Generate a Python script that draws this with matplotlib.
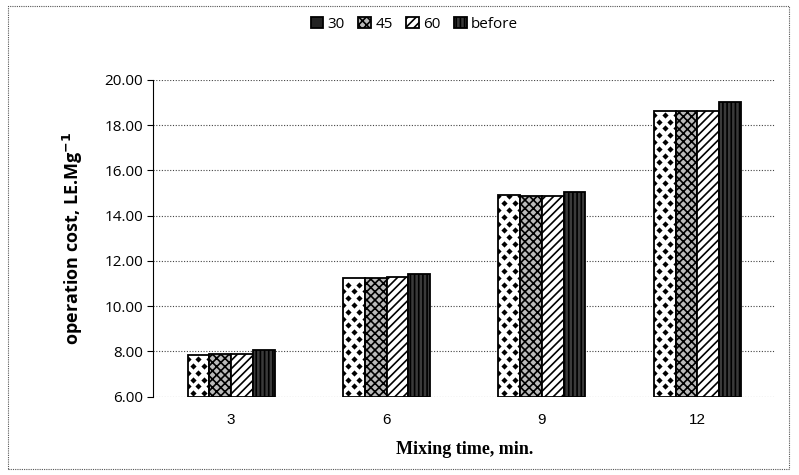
import numpy as np
import matplotlib
matplotlib.use('Agg')
import matplotlib.pyplot as plt
from matplotlib.patches import Rectangle

# ====== data ======
categories = ['3', '6', '9', '12']
series_names = ['30', '45', '60', 'before']
v30 = [7.85, 11.25, 14.90, 18.60]
v45 = [7.88, 11.25, 14.85, 18.60]
v60 = [7.88, 11.30, 14.85, 18.60]
vbefore = [8.05, 11.40, 15.05, 19.00]
yticks = [6, 8, 10, 12, 14, 16, 18, 20]

plt.rcParams['hatch.linewidth'] = 1.2

fig = plt.figure(figsize=(7.99, 4.75), dpi=100)
ax = fig.add_axes([0.192, 0.165, 0.778, 0.667])

# outer dotted frame
fig.patches.append(Rectangle((0.01, 0.012), 0.978, 0.976, transform=fig.transFigure,
                             fill=False, ec='#555555', lw=0.8, ls=(0, (1, 1))))

x = np.arange(len(categories))
w = 0.14
styles = [
    dict(facecolor='white', hatch=None, edgecolor='black'),
    dict(facecolor='#bbbbbb', hatch='xxxx', edgecolor='black'),
    dict(facecolor='white', hatch='////', edgecolor='black'),
    dict(facecolor='#3a3a3a', hatch='||||', edgecolor='black'),
]
containers = []
for i, (vals, st) in enumerate(zip([v30, v45, v60, vbefore], styles)):
    c = ax.bar(x + (i - 1.5) * w, np.array(vals) - 6, w, bottom=6, label=series_names[i],
               linewidth=1.3, **st)
    containers.append(c)

# diamond pattern for the "30" bars (clipped to each bar)
for bar in containers[0]:
    x0, y0 = bar.get_x(), bar.get_y()
    bw, bh = bar.get_width(), bar.get_height()
    rows = np.arange(y0 + 0.15, y0 + bh, 0.3)
    px, py = [], []
    for k, yy in enumerate(rows):
        cols = [x0 + bw * 0.25, x0 + bw * 0.75] if k % 2 == 0 else [x0, x0 + bw * 0.5, x0 + bw]
        for xx in cols:
            px.append(xx)
            py.append(yy)
    sc = ax.scatter(px, py, marker='D', s=10, color='black', lw=0, zorder=3)
    sc.set_clip_path(bar)

ax.set_ylim(6, 20)
ax.set_xlim(-0.5, 3.5)
ax.set_yticks(yticks)
ax.set_yticklabels([f'{t:.2f}' for t in yticks], fontsize=11, family='Open Sans')
ax.set_xticks(x)
ax.set_xticklabels(categories, fontsize=11, family='Liberation Sans')
ax.tick_params(axis='x', length=0, pad=12)
ax.tick_params(axis='y', length=4, direction='out')
ax.yaxis.grid(True, ls=(0, (1, 1.5)), color='#444444', lw=0.8)
ax.set_axisbelow(True)
for s in ['top', 'right', 'bottom']:
    ax.spines[s].set_visible(False)
ax.spines['left'].set_linewidth(0.8)

ax.set_xlabel('Mixing time, min.', fontsize=13, fontweight='bold',
              family='Liberation Serif', labelpad=10)
ax.set_ylabel('operation cost, LE.Mg$^{\\mathbf{-1}}$', fontsize=13, fontweight='bold',
              family='Open Sans', labelpad=14)

handles = [containers[0], containers[1], containers[2], containers[3]]
leg = ax.legend(handles, series_names, loc='center', bbox_to_anchor=(0.42, 1.175), ncol=4,
                frameon=False, handlelength=0.8, handleheight=0.8, handletextpad=0.3,
                columnspacing=0.9, prop={'family': 'Open Sans', 'size': 11})
leg.legend_handles[0].set_facecolor('#222222')

plt.savefig('out.png', dpi=100)
